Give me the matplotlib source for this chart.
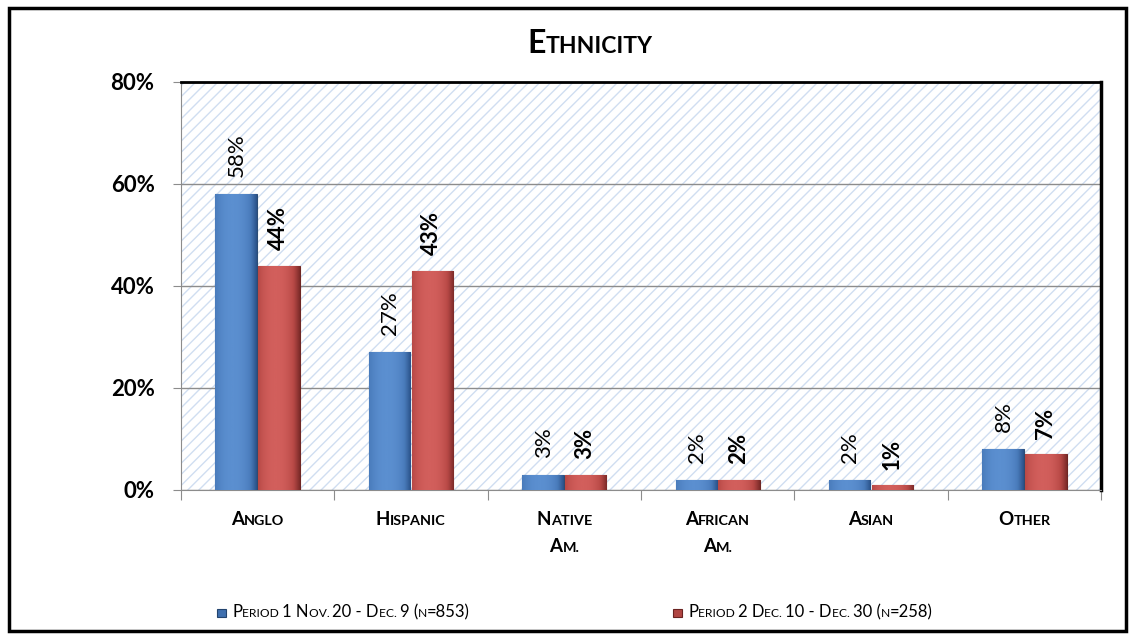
import matplotlib.pyplot as plt
import numpy as np
from matplotlib.patches import Rectangle
from matplotlib.colors import LinearSegmentedColormap
from matplotlib.font_manager import FontProperties

FAMILY = ['Lato', 'DejaVu Sans']
plt.rcParams['font.family'] = FAMILY
plt.rcParams['hatch.linewidth'] = 1.0

categories = ['Anglo', 'Hispanic', 'Native\nAm.', 'African\nAm.', 'Asian', 'Other']
period1 = [58, 27, 3, 2, 2, 8]
period2 = [44, 43, 3, 2, 1, 7]
labels = ['Period 1 Nov. 20 - Dec. 9 (n=853)', 'Period 2 Dec. 10 - Dec. 30 (n=258)']
yticks = [0, 20, 40, 60, 80]

W, H = 1134, 639
fig = plt.figure(figsize=(W / 100, H / 100), dpi=100)
rend = fig.canvas.get_renderer()


def text_w(s, size, weight):
    fp = FontProperties(family=FAMILY, size=size, weight=weight)
    return rend.get_text_width_height_descent(s, fp, ismath=False)[0]


def small_caps(x, y, s, size, weight='bold', ha='center', ratio=0.75):
    # x, y: pixels from the top-left corner, y = baseline
    runs = []
    sz = size
    for ch in s:
        if ch.islower():
            sz = size * ratio
        elif ch not in ' .':
            sz = size
        c = ch.upper()
        if runs and runs[-1][1] == sz:
            runs[-1][0] += c
        else:
            runs.append([c, sz])
    advs = [text_w('|' + t + '|', sz, weight) - text_w('||', sz, weight) for t, sz in runs]
    total = sum(advs)
    cx = x - total / 2 if ha == 'center' else x
    for (t, sz), a in zip(runs, advs):
        fig.text(cx / W, 1 - y / H, t, fontsize=sz, fontweight=weight,
                 ha='left', va='baseline')
        cx += a


# outer frame
fig.patches.append(Rectangle((0.008, 0.012), 0.985, 0.975, transform=fig.transFigure,
                             fill=False, edgecolor='black', linewidth=2.5))
ax = fig.add_axes([181 / W, 1 - 490 / H, 920 / W, 408 / H])

# hatched back wall
ax.add_patch(Rectangle((0, 0), 1, 1, transform=ax.transAxes, facecolor='white',
                       edgecolor='#d0def1', hatch='///', linewidth=0, zorder=0))

x = np.arange(len(categories))
w = 0.27
b1 = ax.bar(x - w / 2 - 0.005, period1, w, color='#4f81bd', edgecolor='#2c4d75',
            linewidth=0.8, zorder=3)
b2 = ax.bar(x + w / 2 + 0.005, period2, w, color='#c0504d', edgecolor='#6e2624',
            linewidth=0.8, zorder=3)

# shaded fill for a rounded look
prof = np.linspace(-1, 1, 64)
grad = (1 - np.abs(prof + 0.15) ** 2.2).reshape(1, -1)
cm_blue = LinearSegmentedColormap.from_list('b', ['#2a5288', '#4a7cbc', '#5b8fd0'])
cm_red = LinearSegmentedColormap.from_list('r', ['#7d2b29', '#b94a47', '#d25f5c'])
for bars, cm in ((b1, cm_blue), (b2, cm_red)):
    for bar in bars:
        x0, y0 = bar.get_x(), bar.get_y()
        im = ax.imshow(grad, extent=[x0, x0 + bar.get_width(), y0, y0 + bar.get_height()],
                       aspect='auto', cmap=cm, zorder=3.2, interpolation='bilinear')
        im.set_clip_path(bar)

for xi, v in zip(x, period1):
    ax.text(xi - w / 2, v + 3.3, f'{v}%', rotation=90, ha='center', va='bottom',
            fontsize=16, zorder=4)
for xi, v in zip(x, period2):
    ax.text(xi + w / 2, v + 3.0, f'{v}%', rotation=90, ha='center', va='bottom',
            fontsize=16, fontweight='bold', zorder=4)

ax.set_xlim(-0.5, len(categories) - 0.5)
ax.set_ylim(0, 80)
ax.set_yticks(yticks)
ax.set_yticklabels([f'{t}%' for t in yticks], fontsize=16, fontweight='bold')
ax.yaxis.grid(True, color='#8c8c8c', linewidth=1, zorder=1)
ax.set_axisbelow(True)

ax.set_xticks(np.arange(len(categories) + 1) - 0.5)
ax.set_xticklabels([])
ax.tick_params(axis='x', length=7, color='#8c8c8c')
ax.tick_params(axis='y', length=6, color='#8c8c8c', pad=13)

ax.spines['left'].set_color('#8c8c8c')
ax.spines['bottom'].set_color('#8c8c8c')
ax.spines['top'].set_linewidth(2)
ax.spines['right'].set_linewidth(2.5)

# category labels in small caps
for xi, c in zip(x, categories):
    px = 181 + (xi + 0.5) / len(categories) * 920
    for k, line in enumerate(c.split('\n')):
        small_caps(px, 525 + 27 * k, line, 13.5, ratio=0.77)

small_caps(590, 53, 'Ethnicity', 23, ratio=0.72)

# legend
for (sx, col, ec), lab in zip(((217, '#3f6fae', '#23446e'), (673, '#b04542', '#6a2321')), labels):
    fig.patches.append(Rectangle((sx / W, 1 - 617 / H), 8.5 / W, 8.5 / H,
                                 transform=fig.transFigure, facecolor=col,
                                 edgecolor=ec, linewidth=0.8))
    small_caps(sx + 15, 617, lab, 12, weight='normal', ha='left', ratio=0.72)

plt.savefig('out.png')
